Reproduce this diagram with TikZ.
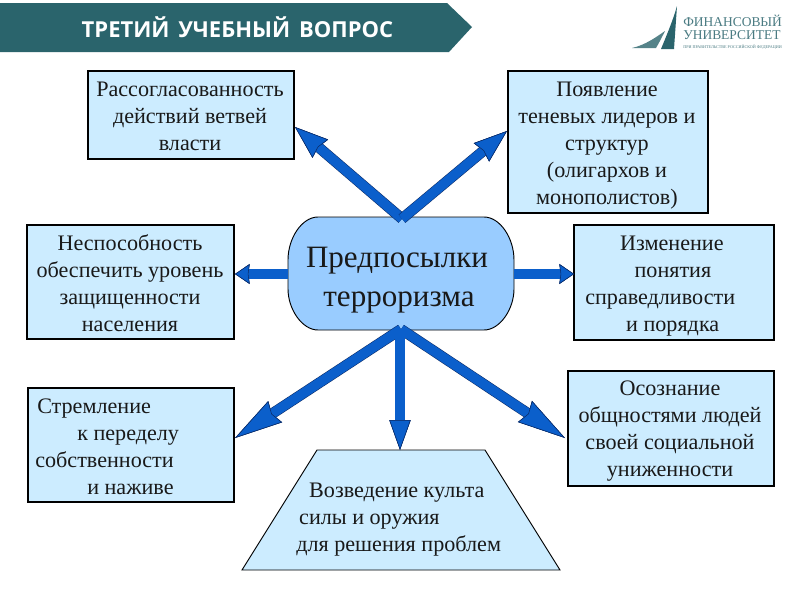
\documentclass[tikz,border=0pt]{standalone}
\usepackage{fontspec}
\setmainfont{Liberation Serif}
\newfontfamily\headfont{Open Sans}
\usetikzlibrary{arrows.meta,calc}
\definecolor{boxfill}{HTML}{CCECFF}
\definecolor{hubfill}{HTML}{99CCFF}
\definecolor{arrowfill}{HTML}{0B5FCB}
\definecolor{arrowedge}{HTML}{0A2A66}
\definecolor{headfill}{HTML}{2A646C}
\tikzset{
  infobox/.style={draw=black,line width=1.5pt,fill=boxfill},
  boxtext/.style={inner sep=0pt,font=\fontsize{16.6pt}{20.25pt}\selectfont,text=black!90},
  flow/.style n args={3}{draw=arrowfill,line width=7.2pt,
    preaction={draw=arrowedge,line width=8pt},
    -{Stealth[length=#1,width=#2,inset=#3,fill=arrowfill,color=arrowedge,line width=.4pt]}},
  logotext/.style={inner sep=0pt,anchor=west,text=headfill!85!white},
}
\begin{document}
\begin{tikzpicture}[x=0.75pt,y=-0.75pt]
\useasboundingbox (0,0) rectangle (800,600);
\fill[white] (0,0) rectangle (800,600);
% header
\fill[headfill] (0,3) -- (447,3) -- (472,27) -- (449,52) -- (0,52) -- cycle;
\node[inner sep=0pt,text=white,font=\headfont\bfseries\fontsize{16.5pt}{18pt}\selectfont,anchor=center] (title) at (237.5,27) {ТРЕТИЙ\hspace{.15em} УЧЕБНЫЙ\hspace{.15em} ВОПРОС};
% logo
\fill[headfill] (677,6) -- (674,49) -- (661,49) .. controls (668,32) and (673,20) .. (677,6) -- cycle;
\fill[headfill!80!white] (632,48) .. controls (645,45) and (655,38) .. (665,31) .. controls (662,37) and (659,43) .. (656,48) -- cycle;
\node[logotext,font=\fontsize{10.1pt}{12pt}\selectfont] (logoa) at (683,21) {ФИНАНСОВЫЙ};
\node[logotext,font=\fontsize{10.1pt}{12pt}\selectfont] (logob) at (683,35) {УНИВЕРСИТЕТ};
\node[logotext,font=\fontsize{3.1pt}{4pt}\selectfont] (logoc) at (683,47) {ПРИ ПРАВИТЕЛЬСТВЕ РОССИЙСКОЙ ФЕДЕРАЦИИ};
% boxes
\draw[infobox] (88,71) rectangle (294,159);
\draw[infobox] (508,71) rectangle (708,213);
\draw[infobox] (27,225) rectangle (234,339);
\draw[infobox] (574,225) rectangle (774,340);
\draw[infobox] (28,388) rectangle (234,502);
\draw[infobox] (568,371) rectangle (774,486);
\draw[draw=black,line width=.7pt,fill=boxfill] (317,450) -- (485,450) -- (560,570) -- (242,570) -- cycle;
% hub
\draw[draw=black,line width=.7pt,fill=hubfill] (318,217) -- (484,217)
  .. controls (500,217) and (514,238) .. (514,260) -- (514,289)
  .. controls (514,309) and (500,330) .. (484,330) -- (318,330)
  .. controls (302,330) and (288,309) .. (288,289) -- (288,260)
  .. controls (288,238) and (302,217) .. (318,217) -- cycle;
\node[inner sep=0pt,minimum width=169.5pt,minimum height=84.75pt] (hub) at (401,273.5) {};
\node[inner sep=0pt,align=center,font=\fontsize{23.3pt}{29.2pt}\selectfont,text=black!90] (hubtext) at (397,280) {Предпосылки\\\hspace*{3pt}терроризма};
% box texts
\node[boxtext,align=center] (ta) at (190,116) {Рассогласованность\\действий ветвей\\власти};
\node[boxtext,align=center] (tb) at (607,146) {Появление\\теневых лидеров и\\структур\\(олигархов и\\монополистов)};
\node[boxtext,align=center] (tc) at (130,283) {Неспособность\\обеспечить уровень\\защищенности\\населения};
\node[boxtext,align=left,anchor=west] (td) at (585,286) {\hspace*{26.2pt}Изменение\\\hspace*{37pt}понятия\\справедливости\\\hspace*{30.7pt}и порядка};
\node[boxtext,align=left,anchor=west] (te) at (35,447) {\hspace*{1.5pt}Стремление\\\hspace*{31.5pt}к переделу\\собственности\\\hspace*{39pt}и наживе};
\node[boxtext,align=center] (tf) at (670,431) {Осознание\\общностями людей\\своей социальной\\униженности};
\node[boxtext,align=left,anchor=west] (tg) at (296,520) {\hspace*{9.7pt}Возведение культа\\\hspace*{2.2pt}силы и оружия\\для решения проблем};
% arrow ends
\coordinate (endA) at (295,127);
\coordinate (endB) at (507,131);
\coordinate (endC) at (235,274);
\coordinate (endD) at (574,274);
\coordinate (endE) at (235,438);
\coordinate (endF) at (565,438);
\coordinate (endG) at (400,450);
% connectors
\draw[flow={25pt}{18pt}{2pt}] (hub.north) ++(1,2) -- (endA);
\draw[flow={25pt}{18pt}{2pt}] (hub.north) ++(1,2) -- (endB);
\path[flow={11pt}{15pt}{1pt}] (hub.west) ++(0,.5) -- (endC);
\path[flow={11pt}{15pt}{1pt}] (hub.east) ++(0,.5) -- (endD);
\draw[flow={36pt}{19pt}{3pt}] (hub.south) ++(0,-1) -- (endE);
\draw[flow={36pt}{19pt}{3pt}] (hub.south) ++(0,-1) -- (endF);
\draw[flow={22.5pt}{16pt}{0pt}] (hub.south) ++(-1,-1) -- (endG);
\end{tikzpicture}
\end{document}
